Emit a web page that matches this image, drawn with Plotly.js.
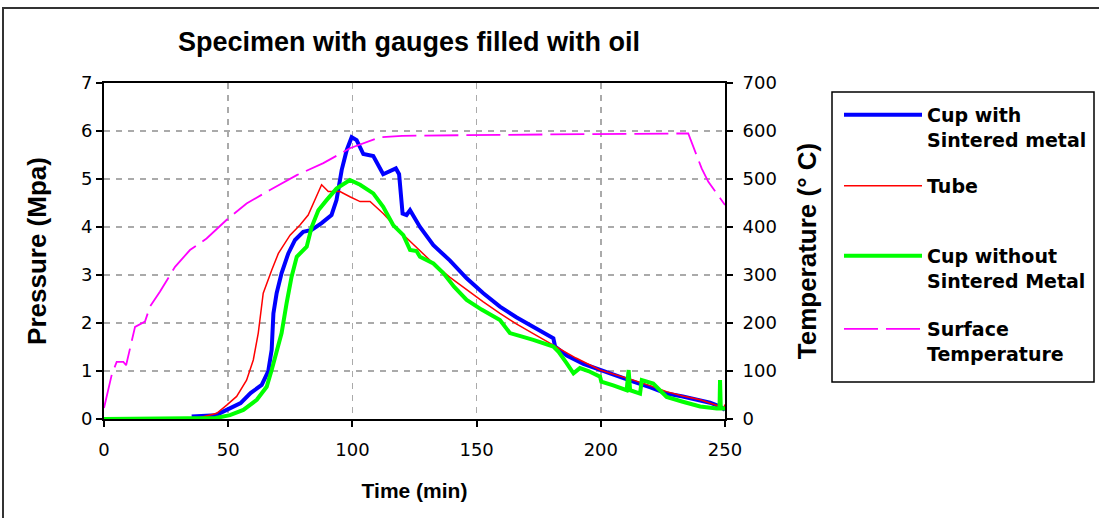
<!DOCTYPE html>
<html>
<head>
<meta charset="utf-8">
<script src="https://cdn.plot.ly/plotly-3.0.1.min.js"></script>
<style>
  html, body { margin: 0; padding: 0; background: #fff; }
  #chart { width: 1099px; height: 518px; }
</style>
</head>
<body>
<div id="chart"></div>
<script>
// Time (min) and values
const cupSinteredTime = [35.3, 45, 49.4, 55, 59, 63.5, 66.1, 67.5, 68.2, 69.5, 71.5, 74.2, 76.9, 80.2, 83.6, 87.6, 91.6, 93.6, 95.7, 97.7, 99.7, 101.7, 104.4, 108.4, 112.4, 117.5, 118.8, 119.5, 120.2, 121.8, 123.2, 127.2, 132.6, 139.3, 146, 152.7, 159.4, 166, 172.8, 178, 180.9, 181.6, 186.3, 193, 199.7, 206.4, 213.1, 220, 226.5, 233, 240, 244, 248, 250];
const cupSinteredPressure = [0.05, 0.08, 0.19, 0.33, 0.54, 0.71, 0.99, 1.44, 2.2, 2.62, 3.04, 3.45, 3.73, 3.9, 3.94, 4.08, 4.25, 4.56, 5.19, 5.6, 5.87, 5.81, 5.52, 5.48, 5.1, 5.22, 5.1, 4.56, 4.28, 4.25, 4.35, 4.0, 3.62, 3.3, 2.93, 2.62, 2.34, 2.12, 1.92, 1.76, 1.68, 1.51, 1.32, 1.15, 1.02, 0.9, 0.78, 0.66, 0.53, 0.47, 0.4, 0.34, 0.26, 0.19];

const tubeTime = [38, 45.4, 49.4, 53.4, 57.4, 60.1, 62.1, 64.1, 67.5, 70.2, 74.9, 78.9, 82.2, 84.9, 87.6, 90.3, 95, 99, 103.1, 107.1, 112.4, 119.2, 127.2, 132.6, 139.3, 146, 152.7, 159.4, 166, 172.8, 182.2, 190, 199.7, 206.4, 213.1, 220, 226.5, 233, 240, 248, 249.3, 250];
const tubePressure = [0.02, 0.12, 0.29, 0.47, 0.81, 1.23, 1.79, 2.62, 3.1, 3.45, 3.83, 4.04, 4.25, 4.56, 4.88, 4.74, 4.74, 4.63, 4.53, 4.53, 4.28, 3.9, 3.5, 3.24, 2.95, 2.69, 2.44, 2.2, 1.98, 1.78, 1.51, 1.27, 1.02, 0.92, 0.81, 0.69, 0.57, 0.48, 0.4, 0.26, 0.2, 0.3];

const cupNoSinteredTime = [0, 45, 50.7, 56.1, 61.5, 65.5, 67.5, 69.5, 71.5, 73.5, 75.5, 77.6, 81.6, 83.6, 86.3, 89.6, 93.6, 99, 103.1, 108.4, 112.4, 116.4, 119.2, 120.5, 123.2, 125.8, 127.2, 132.6, 136.6, 141, 146, 152, 159.4, 163.4, 168, 172.8, 180.9, 183, 186.3, 189, 191.6, 195, 199.7, 200.2, 205, 210.4, 211.2, 211.8, 215.8, 216.5, 221.1, 226.5, 233, 240, 246.7, 247.8, 248, 248.3, 250];
const cupNoSinteredPressure = [0, 0.02, 0.08, 0.19, 0.4, 0.67, 1.02, 1.37, 1.79, 2.41, 2.96, 3.38, 3.59, 4.0, 4.35, 4.56, 4.8, 4.98, 4.88, 4.7, 4.42, 4.04, 3.9, 3.83, 3.52, 3.5, 3.38, 3.24, 3.04, 2.75, 2.48, 2.28, 2.06, 1.79, 1.72, 1.65, 1.51, 1.4, 1.16, 0.95, 1.06, 1.0, 0.88, 0.78, 0.7, 0.6, 1.02, 0.6, 0.53, 0.81, 0.74, 0.46, 0.36, 0.26, 0.22, 0.22, 0.81, 0.22, 0.22];

const surfaceTime = [0, 3.1, 5.1, 7.8, 8.9, 11.1, 12.5, 16.5, 18.5, 22.5, 28.6, 34.6, 41.3, 49.4, 57.4, 66.8, 77.6, 88.3, 99, 111, 120, 160, 200, 235.2, 240.6, 243.3, 250];
const surfaceTemperature = [23, 92, 119, 119, 112, 158, 192, 203, 234, 265, 317, 352, 376, 415, 449, 477, 508, 533, 564, 587, 590, 592, 594, 595, 522, 494, 446];

const seriesNames = ["Cup with<br>Sintered metal", "Tube", "Cup without<br>Sintered Metal", "Surface<br>Temperature"];
const xTickVals = [0, 50, 100, 150, 200, 250];
const yTickVals = [0, 1, 2, 3, 4, 5, 6, 7];
const y2TickVals = [0, 100, 200, 300, 400, 500, 600, 700];

const AR = "Arial, 'Liberation Sans', sans-serif";
const tickFont = {family: "'DejaVu Sans', sans-serif", size: 18, color: "#000"};
const legFont = {family: "'DejaVu Sans', sans-serif", size: 19, weight: "bold", color: "#000"};

const traces = [
  {x: cupSinteredTime, y: cupSinteredPressure, name: seriesNames[0], type: "scatter", mode: "lines",
   line: {color: "#0000FF", width: 4}, legend: "legend"},
  {x: tubeTime, y: tubePressure, name: seriesNames[1], type: "scatter", mode: "lines",
   line: {color: "#FF0000", width: 1.5}, legend: "legend2"},
  {x: cupNoSinteredTime, y: cupNoSinteredPressure, name: seriesNames[2], type: "scatter", mode: "lines",
   line: {color: "#00FF00", width: 4}, legend: "legend3"},
  {x: surfaceTime, y: surfaceTemperature, name: seriesNames[3], type: "scatter", mode: "lines", yaxis: "y2",
   line: {color: "#FF00FF", width: 1.8, dash: "34px,8px"}, legend: "legend4"}
];

// pixel helpers for paper coordinates (plot area: x 104..725, y 83..419)
const px = v => (v - 104) / 621;
const py = v => (419 - v) / 336;

function legendAt(topPx) {
  return {x: px(839), xanchor: "left", y: py(topPx), yanchor: "top",
          borderwidth: 0, bgcolor: "rgba(255,255,255,0)", font: legFont,
          itemwidth: 78, valign: "top"};
}

const gridCol = "#AAAAAA";
const layout = {
  width: 1099, height: 518,
  margin: {l: 104, r: 374, t: 83, b: 99, pad: 0, autoexpand: false},
  paper_bgcolor: "#fff", plot_bgcolor: "#fff",
  title: {text: "Specimen with gauges filled with oil", x: 409 / 1099, xref: "container", xanchor: "center",
          y: 1 - 42/518, yanchor: "middle",
          font: {family: AR, size: 27, weight: "bold", color: "#000"}},
  xaxis: {range: [0, 250], tickvals: xTickVals, ticktext: xTickVals.map(String),
          showline: true, linecolor: "#000", linewidth: 2, mirror: true,
          ticks: "outside", ticklen: 6, tickcolor: "#000", tickwidth: 2,
          ticklabelstandoff: 7,
          showgrid: true, gridcolor: gridCol, griddash: "6px,6px", gridwidth: 1.5,
          zeroline: false, tickfont: tickFont,
          title: {text: "Time (min)", font: {family: AR, size: 21, weight: "bold", color: "#000"}, standoff: 25}},
  yaxis: {range: [0, 7], tickvals: yTickVals, ticktext: yTickVals.map(String),
          showline: true, linecolor: "#000", linewidth: 2,
          ticks: "outside", ticklen: 6, tickcolor: "#000", tickwidth: 2,
          showgrid: true, gridcolor: gridCol, griddash: "6px,6px", gridwidth: 1.5,
          zeroline: false, tickfont: tickFont,
          title: {text: "Pressure (Mpa)", font: {family: AR, size: 26, weight: "bold", color: "#000"}, standoff: 27}},
  yaxis2: {range: [0, 700], tickvals: y2TickVals, ticktext: y2TickVals.map(String),
           overlaying: "y", side: "right",
           showline: true, linecolor: "#000", linewidth: 2,
           ticks: "outside", ticklen: 6, tickcolor: "#000", tickwidth: 2,
           ticklabelstandoff: 6,
           showgrid: false, zeroline: false, tickfont: tickFont,
           title: {text: "Temperature (° C)", font: {family: AR, size: 26, weight: "bold", color: "#000"}, standoff: 22}},
  showlegend: true,
  legend: legendAt(96),
  legend2: legendAt(167),
  legend3: legendAt(237),
  legend4: legendAt(310),
  shapes: [
    {type: "rect", xref: "paper", yref: "paper",
     x0: px(3), x1: px(1110), y0: py(530), y1: py(8),
     line: {color: "#333", width: 2}, fillcolor: "rgba(0,0,0,0)", layer: "below"},
    {type: "rect", xref: "paper", yref: "paper",
     x0: px(832), x1: px(1094), y0: py(382), y1: py(92),
     line: {color: "#000", width: 1.5}, fillcolor: "rgba(0,0,0,0)", layer: "below"}
  ]
};

Plotly.newPlot("chart", traces, layout, {displayModeBar: false, staticPlot: true});
</script>
</body>
</html>
